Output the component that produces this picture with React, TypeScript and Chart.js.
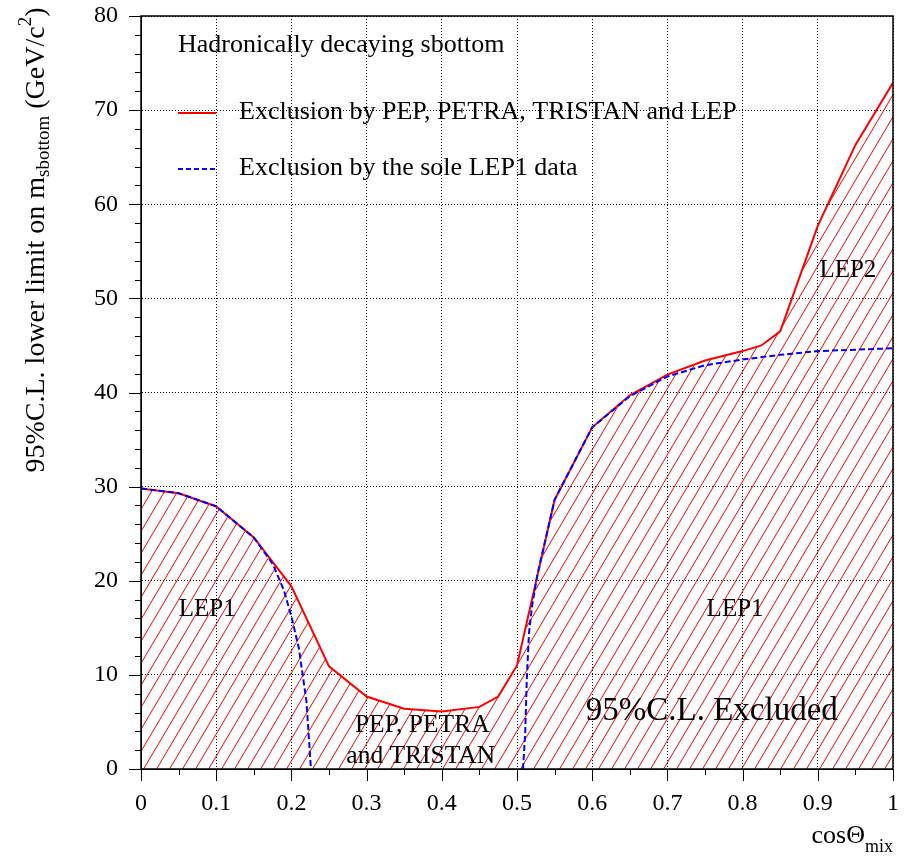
import React, { useEffect, useRef } from "react";
import { Chart, registerables } from "chart.js";

Chart.register(...registerables);

// Combined PEP/PETRA/TRISTAN/LEP exclusion boundary
const combinedCos = [0, 0.05, 0.1, 0.15, 0.2, 0.25, 0.3, 0.35, 0.4, 0.45, 0.475, 0.5, 0.55, 0.6, 0.65, 0.7, 0.75, 0.8, 0.825, 0.85, 0.9, 0.95, 1];
const combinedMass = [29.8, 29.3, 27.9, 24.6, 19.4, 10.9, 7.7, 6.4, 6.1, 6.6, 7.7, 11.0, 28.6, 36.3, 39.7, 41.9, 43.4, 44.4, 45.0, 46.5, 57.7, 66.3, 72.9];

// LEP1-only exclusion, low mixing branch
const lep1LowCos = [0, 0.05, 0.1, 0.15, 0.175, 0.19, 0.2, 0.21, 0.22, 0.226];
const lep1LowMass = [29.8, 29.3, 27.9, 24.6, 21.8, 19.0, 16.2, 12.8, 7.2, 0];

// LEP1-only exclusion, high mixing branch
const lep1HighCos = [0.508, 0.511, 0.513, 0.516, 0.52, 0.527, 0.55, 0.6, 0.65, 0.7, 0.75, 0.8, 0.85, 0.9, 1];
const lep1HighMass = [0, 4.0, 9.5, 14.5, 17.3, 20.6, 28.6, 36.3, 39.6, 41.7, 42.9, 43.5, 44.0, 44.4, 44.7];

const xRange = [0, 1];
const yRange = [0, 80];
const xMajorStep = 0.1;
const xMinorStep = 0.05;
const yMajorStep = 10;
const yMinorStep = 2;

const legendTitle = "Hadronically decaying sbottom";
const legendCombined = "Exclusion by PEP, PETRA, TRISTAN and LEP";
const legendLep1 = "Exclusion by the sole LEP1 data";

const regionTexts = ["LEP1", "LEP1", "LEP2", "PEP, PETRA", "and TRISTAN", "95%C.L. Excluded"];
// where each region text sits, in (cosθ, mass) coordinates
const regionAnchors = [
  [0.088, 17.0],
  [0.79, 17.0],
  [0.94, 53.0],
  [0.374, 4.6],
  [0.372, 1.4],
  [0.759, 6.1],
];
const regionSizes = [25, 25, 25, 25.5, 25.5, 33];

const SERIF = '"Liberation Serif", "Times New Roman", serif';

const toPoints = (xs: number[], ys: number[]) => xs.map((x, i) => ({ x, y: ys[i] }));

function makeHatch(): CanvasPattern | string {
  const w = 13;
  const h = 22;
  const c = document.createElement("canvas");
  c.width = w;
  c.height = h;
  const g = c.getContext("2d");
  if (!g) return "rgba(255,0,0,0.2)";
  g.strokeStyle = "#ff0000";
  g.lineWidth = 1;
  for (const off of [-w, 0, w]) {
    g.beginPath();
    g.moveTo(off, h);
    g.lineTo(off + w, 0);
    g.stroke();
  }
  return g.createPattern(c, "repeat") || "rgba(255,0,0,0.2)";
}

type Part = { text: string; size: number; dy: number };

function drawParts(ctx: CanvasRenderingContext2D, parts: Part[], x: number, y: number, align: "left" | "center" | "right") {
  let total = 0;
  for (const p of parts) {
    ctx.font = `${p.size}px ${SERIF}`;
    total += ctx.measureText(p.text).width;
  }
  let cx = align === "left" ? x : align === "center" ? x - total / 2 : x - total;
  ctx.textAlign = "left";
  ctx.textBaseline = "alphabetic";
  for (const p of parts) {
    ctx.font = `${p.size}px ${SERIF}`;
    ctx.fillText(p.text, cx, y + p.dy);
    cx += ctx.measureText(p.text).width;
  }
}

// keep the plot frame exactly where the layout padding puts it
const noScalePadding = (s: any) => {
  s.paddingTop = 0;
  s.paddingBottom = 0;
  s.paddingLeft = 0;
  s.paddingRight = 0;
};

const decorations = {
  id: "decorations",
  afterDatasetsDraw(chart: Chart) {
    const ctx = chart.ctx;
    const { left, right, top, bottom } = chart.chartArea;
    const xs = chart.scales.x;
    const ys = chart.scales.y;
    ctx.save();

    // frame
    ctx.strokeStyle = "#000";
    ctx.lineWidth = 1.5;
    ctx.strokeRect(left, top, right - left, bottom - top);

    // major and minor tick marks, pointing outwards
    ctx.lineWidth = 1;
    const nx = Math.round((xRange[1] - xRange[0]) / xMinorStep);
    const xRatio = Math.round(xMajorStep / xMinorStep);
    for (let i = 0; i <= nx; i++) {
      const px = Math.round(xs.getPixelForValue(xRange[0] + i * xMinorStep)) + 0.5;
      const len = i % xRatio === 0 ? 12 : 6;
      ctx.beginPath();
      ctx.moveTo(px, bottom);
      ctx.lineTo(px, bottom + len);
      ctx.stroke();
    }
    const ny = Math.round((yRange[1] - yRange[0]) / yMinorStep);
    const yRatio = Math.round(yMajorStep / yMinorStep);
    for (let i = 0; i <= ny; i++) {
      const py = Math.round(ys.getPixelForValue(yRange[0] + i * yMinorStep)) + 0.5;
      const len = i % yRatio === 0 ? 12 : 6;
      ctx.beginPath();
      ctx.moveTo(left - len, py);
      ctx.lineTo(left, py);
      ctx.stroke();
    }

    // region labels
    ctx.fillStyle = "#000";
    ctx.textAlign = "center";
    ctx.textBaseline = "middle";
    regionTexts.forEach((t, i) => {
      ctx.font = `${regionSizes[i]}px ${SERIF}`;
      ctx.fillText(t, xs.getPixelForValue(regionAnchors[i][0]), ys.getPixelForValue(regionAnchors[i][1]));
    });

    // legend
    const lx = left + 37;
    ctx.font = `26px ${SERIF}`;
    ctx.textAlign = "left";
    ctx.fillText(legendTitle, lx, top + 29);
    ctx.fillText(legendCombined, lx + 61, top + 96);
    ctx.fillText(legendLep1, lx + 61, top + 152);
    ctx.lineWidth = 2;
    ctx.strokeStyle = "#ff0000";
    ctx.beginPath();
    ctx.moveTo(lx, top + 97);
    ctx.lineTo(lx + 38, top + 97);
    ctx.stroke();
    ctx.strokeStyle = "#0000ff";
    ctx.setLineDash([5, 3]);
    ctx.beginPath();
    ctx.moveTo(lx, top + 153);
    ctx.lineTo(lx + 38, top + 153);
    ctx.stroke();
    ctx.setLineDash([]);

    // x axis title
    ctx.fillStyle = "#000";
    drawParts(
      ctx,
      [
        { text: "cosΘ", size: 26, dy: 0 },
        { text: "mix", size: 18, dy: 9 },
      ],
      right,
      bottom + 74,
      "right"
    );

    // y axis title, rotated
    ctx.save();
    ctx.translate(44, 240);
    ctx.rotate(-Math.PI / 2);
    drawParts(
      ctx,
      [
        { text: "95%C.L. lower limit on m", size: 28, dy: 0 },
        { text: "sbottom", size: 19, dy: 5 },
        { text: " (GeV/c", size: 28, dy: 0 },
        { text: "2", size: 19, dy: -13 },
        { text: ")", size: 28, dy: 0 },
      ],
      0,
      0,
      "center"
    );
    ctx.restore();

    ctx.restore();
  },
};

export default function App() {
  const canvasRef = useRef<HTMLCanvasElement | null>(null);

  useEffect(() => {
    if (!canvasRef.current) return;
    const hatch = makeHatch();
    const chart = new Chart(canvasRef.current, {
      type: "line",
      data: {
        datasets: [
          {
            label: legendLep1,
            data: toPoints(lep1LowCos, lep1LowMass),
            borderColor: "#0000ff",
            borderWidth: 2,
            borderDash: [6, 3],
            pointRadius: 0,
            fill: false,
            tension: 0,
            order: 0,
          },
          {
            label: legendLep1,
            data: toPoints(lep1HighCos, lep1HighMass),
            borderColor: "#0000ff",
            borderWidth: 2,
            borderDash: [6, 3],
            pointRadius: 0,
            fill: false,
            tension: 0,
            order: 0,
          },
          {
            label: legendCombined,
            data: toPoints(combinedCos, combinedMass),
            borderColor: "#ff0000",
            borderWidth: 2,
            backgroundColor: hatch as any,
            pointRadius: 0,
            fill: "origin",
            tension: 0,
            order: 1,
          },
        ],
      },
      options: {
        animation: false,
        responsive: true,
        maintainAspectRatio: false,
        layout: { padding: { top: 16, right: 18, left: 0, bottom: 0 } },
        plugins: {
          legend: { display: false },
          tooltip: { enabled: false },
        },
        scales: {
          x: {
            type: "linear",
            min: xRange[0],
            max: xRange[1],
            afterFit: (s: any) => {
              s.height = 87;
              noScalePadding(s);
            },
            ticks: {
              stepSize: xMajorStep,
              padding: 20,
              color: "#000",
              font: { family: SERIF, size: 24 },
              maxRotation: 0,
              callback: (v: any) => String(Number(Number(v).toFixed(2))),
            },
            grid: { color: "#000", lineWidth: 1, drawTicks: false },
            border: { display: true, color: "#000", width: 1, dash: [1, 2] },
          },
          y: {
            type: "linear",
            min: yRange[0],
            max: yRange[1],
            afterFit: (s: any) => {
              s.width = 141;
              noScalePadding(s);
            },
            ticks: {
              stepSize: yMajorStep,
              padding: 23,
              color: "#000",
              font: { family: SERIF, size: 24 },
            },
            grid: { color: "#000", lineWidth: 1, drawTicks: false },
            border: { display: true, color: "#000", width: 1, dash: [1, 2] },
          },
        },
      },
      plugins: [decorations],
    });
    return () => chart.destroy();
  }, []);

  return (
    <div style={{ position: "absolute", left: 0, top: 0, width: 911, height: 856, background: "#fff" }}>
      <canvas ref={canvasRef} />
    </div>
  );
}
